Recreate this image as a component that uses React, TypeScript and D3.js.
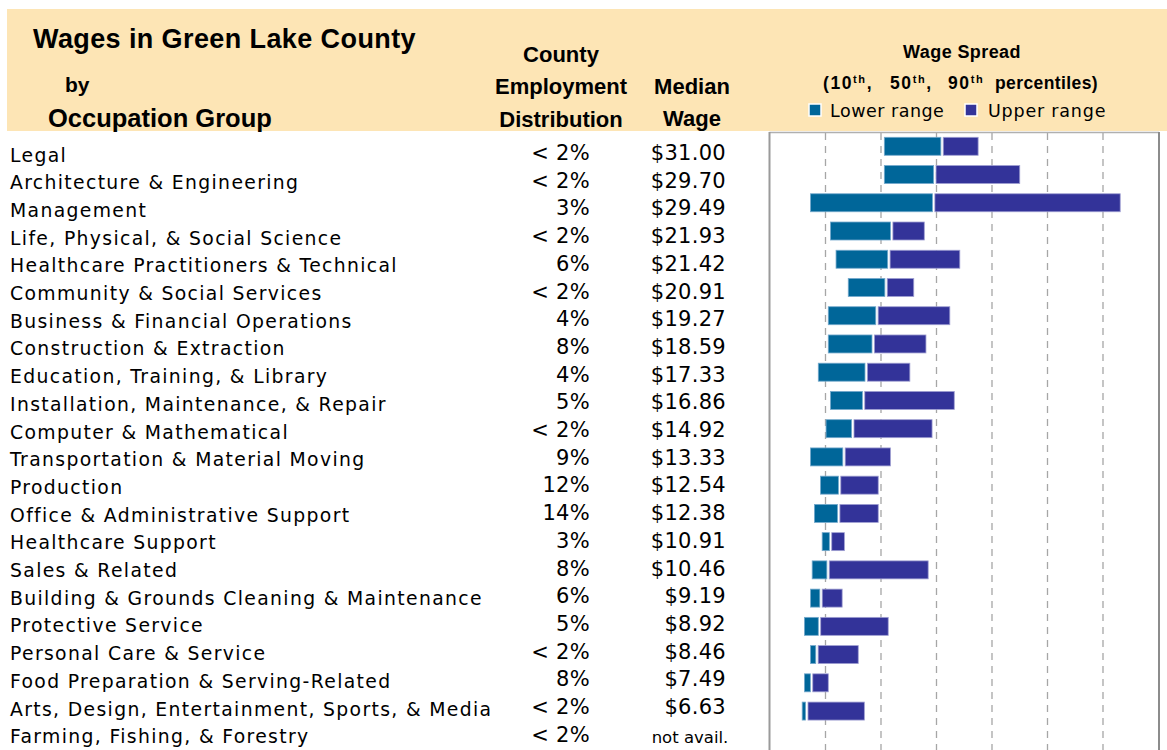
import React from "react";
import * as d3 from "d3";

const categories = [
  "Legal",
  "Architecture & Engineering",
  "Management",
  "Life, Physical, & Social Science",
  "Healthcare Practitioners & Technical",
  "Community & Social Services",
  "Business & Financial Operations",
  "Construction & Extraction",
  "Education, Training, & Library",
  "Installation, Maintenance, & Repair",
  "Computer & Mathematical",
  "Transportation & Material Moving",
  "Production",
  "Office & Administrative Support",
  "Healthcare Support",
  "Sales & Related",
  "Building & Grounds Cleaning & Maintenance",
  "Protective Service",
  "Personal Care & Service",
  "Food Preparation & Serving-Related",
  "Arts, Design, Entertainment, Sports, & Media",
  "Farming, Fishing, & Forestry",
];

const employmentShare = [
  "< 2%", "< 2%", "3%", "< 2%", "6%", "< 2%", "4%", "8%", "4%", "5%", "< 2%",
  "9%", "12%", "14%", "3%", "8%", "6%", "5%", "< 2%", "8%", "< 2%", "< 2%",
];

const medianLabels = [
  "$31.00", "$29.70", "$29.49", "$21.93", "$21.42", "$20.91", "$19.27", "$18.59",
  "$17.33", "$16.86", "$14.92", "$13.33", "$12.54", "$12.38", "$10.91", "$10.46",
  "$9.19", "$8.92", "$8.46", "$7.49", "$6.63", "not avail.",
];

const p10 = [
  20.6, 20.6, 7.3, 10.9, 11.9, 14.1, 10.5, 10.5, 8.7, 10.9, 10.1,
  7.3, 9.1, 8.0, 9.4, 7.6, 7.3, 6.2, 7.3, 6.2, 5.8, null,
];
const p50 = [
  31.0, 29.7, 29.49, 21.93, 21.42, 20.91, 19.27, 18.59, 17.33, 16.86, 14.92,
  13.33, 12.54, 12.38, 10.91, 10.46, 9.19, 8.92, 8.46, 7.49, 6.63, null,
];
const p90 = [
  37.5, 45.0, 63.1, 27.8, 34.2, 25.9, 32.4, 28.1, 25.2, 33.2, 29.2,
  21.7, 19.5, 19.5, 13.4, 28.5, 13.0, 21.3, 15.9, 10.5, 17.0, null,
];

const gridTicks = [10, 20, 30, 40, 50, 60];

const BEIGE = "#FDE5B5";
const LOWER = "#006699";
const UPPER = "#333399";
const BODY_FONT = "'DejaVu Sans', sans-serif";
const HEAD_FONT = "'Liberation Sans', Arial, sans-serif";

export default function App() {
  const W = 1167;
  const H = 750;
  const x = d3.scaleLinear().domain([0, 70]).range([770, 1158.5]);
  const yBar = d3
    .scaleBand<string>()
    .domain(categories)
    .range([133, 752.6])
    .paddingInner(0.363)
    .paddingOuter(0.152);
  const yText = d3
    .scalePoint<string>()
    .domain(categories)
    .range([161.5, 743.2]);

  const bars = categories
    .map((c, i) => ({ c, lo: p10[i], mid: p50[i], hi: p90[i] }))
    .filter((d) => d.lo != null && d.mid != null && d.hi != null) as {
    c: string;
    lo: number;
    mid: number;
    hi: number;
  }[];

  const supSize = 11;

  return (
    <svg
      width={W}
      height={H}
      style={{ position: "absolute", left: 0, top: 0, background: "#fff" }}
    >
      {/* header band */}
      <rect x={7} y={9} width={W - 7} height={122} fill={BEIGE} />
      <text x={33} y={48} fontFamily={HEAD_FONT} fontWeight="bold" fontSize={27} letterSpacing={0.4} fill="#000">
        Wages in Green Lake County
      </text>
      <text x={65} y={92} fontFamily={HEAD_FONT} fontWeight="bold" fontSize={21} fill="#000">
        by
      </text>
      <text x={48} y={126.5} fontFamily={HEAD_FONT} fontWeight="bold" fontSize={25.5} fill="#000">
        Occupation Group
      </text>

      <g fontFamily={HEAD_FONT} fontWeight="bold" fontSize={22} fill="#000" textAnchor="middle">
        <text x={561} y={62}>County</text>
        <text x={561} y={94}>Employment</text>
        <text x={561} y={127}>Distribution</text>
        <text x={692} y={94}>Median</text>
        <text x={692} y={126}>Wage</text>
      </g>

      <text x={962} y={58} fontFamily={HEAD_FONT} fontWeight="bold" fontSize={18} letterSpacing={0.4} textAnchor="middle" fill="#000">
        Wage Spread
      </text>
      <g fontFamily={HEAD_FONT} fontWeight="bold" fontSize={17.5} fill="#000">
        <text x={823} y={89} letterSpacing={1.6}>
          (10<tspan fontSize={supSize} dy={-6}>th</tspan>
          <tspan dy={6}>,</tspan>
        </text>
        <text x={890} y={89} letterSpacing={1.6}>
          50<tspan fontSize={supSize} dy={-6}>th</tspan>
          <tspan dy={6}>,</tspan>
        </text>
        <text x={948} y={89} letterSpacing={1.6}>
          90<tspan fontSize={supSize} dy={-6}>th</tspan>
        </text>
        <text x={995} y={89} letterSpacing={0.4}>percentiles)</text>
      </g>

      {/* legend */}
      <rect x={809} y={104} width={12} height={12} fill={LOWER} stroke="#fff" strokeWidth={1.5} />
      <text x={830} y={116.5} fontFamily={BODY_FONT} fontSize={17.5} letterSpacing={0.5} fill="#000">
        Lower range
      </text>
      <rect x={965} y={104} width={12} height={12} fill={UPPER} stroke="#fff" strokeWidth={1.5} />
      <text x={988} y={116.5} fontFamily={BODY_FONT} fontSize={17.5} letterSpacing={0.8} fill="#000">
        Upper range
      </text>

      {/* chart panel */}
      <rect x={769.5} y={132} width={389.5} height={H} fill="#fff" />
      {gridTicks.map((t) => (
        <line
          key={t}
          x1={x(t)}
          x2={x(t)}
          y1={133}
          y2={H}
          stroke="#a6a6a6"
          strokeWidth={1.3}
          strokeDasharray="7,6"
        />
      ))}
      <line x1={769.5} x2={1159} y1={132.5} y2={132.5} stroke="#b0b0b0" strokeWidth={1.5} />
      <line x1={769.5} x2={769.5} y1={132} y2={H} stroke="#9a9a9a" strokeWidth={2} />
      <line x1={1159} x2={1159} y1={132} y2={H} stroke="#8c8c8c" strokeWidth={2} />

      {bars.map((d) => {
        const y0 = yBar(d.c) as number;
        const bw = yBar.bandwidth();
        const xm = x(d.mid);
        return (
          <g key={d.c}>
            <rect
              x={x(d.lo)}
              y={y0}
              width={Math.max(1, xm - 1.2 - x(d.lo))}
              height={bw}
              fill={LOWER}
              stroke="#74a9cc"
              strokeWidth={0.8}
            />
            <rect
              x={xm + 1.2}
              y={y0}
              width={Math.max(1, x(d.hi) - xm - 1.2)}
              height={bw}
              fill={UPPER}
              stroke="#9f9fd2"
              strokeWidth={0.8}
            />
          </g>
        );
      })}

      {/* table text */}
      <g fontFamily={BODY_FONT} fill="#000">
        {categories.map((c, i) => {
          const yy = yText(c) as number;
          return (
            <g key={c}>
              <text x={10} y={yy} fontSize={18.8} letterSpacing={1.35}>
                {c}
              </text>
              <text x={590} y={yy - 1.5} fontSize={21} letterSpacing={0.3} textAnchor="end">
                {employmentShare[i]}
              </text>
              {medianLabels[i] === "not avail." ? (
                <text x={690} y={yy} fontSize={16.5} textAnchor="middle">
                  {medianLabels[i]}
                </text>
              ) : (
                <text x={726} y={yy - 1.5} fontSize={21} letterSpacing={0.3} textAnchor="end">
                  {medianLabels[i]}
                </text>
              )}
            </g>
          );
        })}
      </g>
    </svg>
  );
}
